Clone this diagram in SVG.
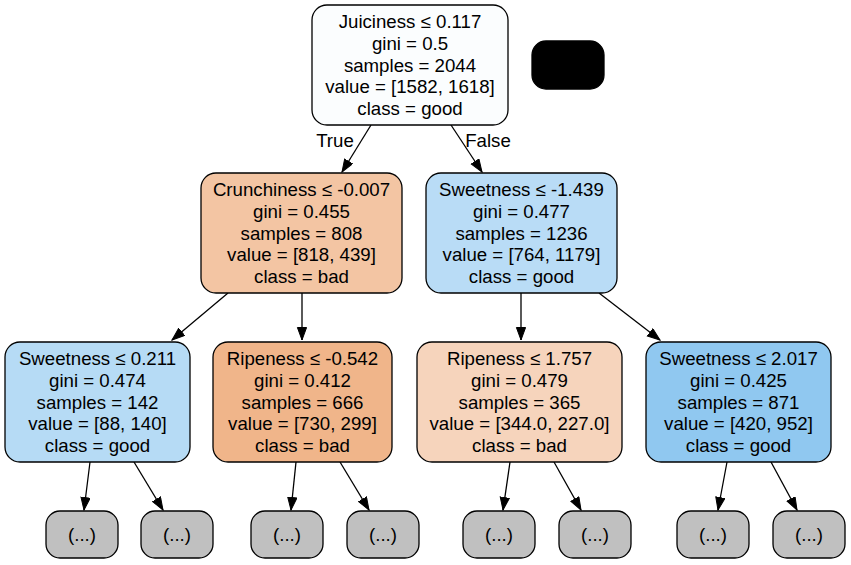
<svg xmlns="http://www.w3.org/2000/svg" width="851" height="565" viewBox="0 0 851 565">
<style>
  .box { stroke: #000; stroke-width: 1.3; }
  .t { font-family: "Liberation Sans", Arial, sans-serif; font-size: 18.67px; fill: #000; text-anchor: middle; }
  .e line { stroke: #000; stroke-width: 1.3; marker-end: url(#arr); }
  .leaf { fill: #c0c0c0; }
</style>
<defs>
  <marker id="arr" markerUnits="userSpaceOnUse" markerWidth="16" markerHeight="12" refX="13" refY="5" orient="auto">
    <path d="M0.5,0.4 L13,5 L0.5,9.6 Z" fill="#000" stroke="#000" stroke-width="1"/>
  </marker>
</defs>
<rect width="851" height="565" fill="#fff"/>

<g id="connectors" class="e">
  <line x1="371" y1="125" x2="342" y2="172"/>
  <line x1="451" y1="125" x2="482" y2="172"/>
  <line x1="228" y1="293" x2="172" y2="340"/>
  <line x1="302" y1="293" x2="302" y2="340"/>
  <line x1="521" y1="293" x2="521" y2="340"/>
  <line x1="599" y1="293" x2="660" y2="340"/>
  <line x1="90" y1="462" x2="84" y2="510"/>
  <line x1="134" y1="462" x2="163" y2="510"/>
  <line x1="296" y1="462" x2="291" y2="510"/>
  <line x1="340" y1="462" x2="369" y2="510"/>
  <line x1="510" y1="462" x2="503" y2="510"/>
  <line x1="554" y1="462" x2="581" y2="510"/>
  <line x1="727" y1="462" x2="718" y2="510"/>
  <line x1="771" y1="462" x2="797" y2="510"/>
  <text class="t" x="335" y="147" style="stroke:none">True</text>
  <text class="t" x="488" y="147" style="stroke:none">False</text>
</g>

<g id="node0">
  <rect class="box" x="312" y="5" width="196" height="120" rx="15" fill="#fbfdfe"/>
  <text class="t" x="410" y="28.4">Juiciness ≤ 0.117</text>
  <text class="t" x="410" y="50">gini = 0.5</text>
  <text class="t" x="410" y="71.7">samples = 2044</text>
  <text class="t" x="410" y="93.3">value = [1582, 1618]</text>
  <text class="t" x="410" y="115">class = good</text>
</g>

<g id="nodeBlack">
  <rect class="box" x="532" y="41" width="72" height="48" rx="14" fill="#000"/>
</g>

<g id="node1">
  <rect class="box" x="201" y="173" width="201" height="120" rx="15" fill="#f3c5a3"/>
  <text class="t" x="301.5" y="196.4">Crunchiness ≤ -0.007</text>
  <text class="t" x="301.5" y="218">gini = 0.455</text>
  <text class="t" x="301.5" y="239.7">samples = 808</text>
  <text class="t" x="301.5" y="261.4">value = [818, 439]</text>
  <text class="t" x="301.5" y="283">class = bad</text>
</g>

<g id="node2">
  <rect class="box" x="426" y="173" width="191" height="120" rx="15" fill="#b9dcf6"/>
  <text class="t" x="521.5" y="196.4">Sweetness ≤ -1.439</text>
  <text class="t" x="521.5" y="218">gini = 0.477</text>
  <text class="t" x="521.5" y="239.7">samples = 1236</text>
  <text class="t" x="521.5" y="261.4">value = [764, 1179]</text>
  <text class="t" x="521.5" y="283">class = good</text>
</g>

<g id="node3">
  <rect class="box" x="5" y="342" width="185" height="120" rx="15" fill="#b6dbf5"/>
  <text class="t" x="97.5" y="365.4">Sweetness ≤ 0.211</text>
  <text class="t" x="97.5" y="387">gini = 0.474</text>
  <text class="t" x="97.5" y="408.7">samples = 142</text>
  <text class="t" x="97.5" y="430.4">value = [88, 140]</text>
  <text class="t" x="97.5" y="452">class = good</text>
</g>

<g id="node4">
  <rect class="box" x="213" y="342" width="179" height="120" rx="15" fill="#f0b58a"/>
  <text class="t" x="302.5" y="365.4">Ripeness ≤ -0.542</text>
  <text class="t" x="302.5" y="387">gini = 0.412</text>
  <text class="t" x="302.5" y="408.7">samples = 666</text>
  <text class="t" x="302.5" y="430.4">value = [730, 299]</text>
  <text class="t" x="302.5" y="452">class = bad</text>
</g>

<g id="node5">
  <rect class="box" x="417" y="342" width="205" height="120" rx="15" fill="#f6d4bc"/>
  <text class="t" x="519.5" y="365.4">Ripeness ≤ 1.757</text>
  <text class="t" x="519.5" y="387">gini = 0.479</text>
  <text class="t" x="519.5" y="408.7">samples = 365</text>
  <text class="t" x="519.5" y="430.4">value = [344.0, 227.0]</text>
  <text class="t" x="519.5" y="452">class = bad</text>
</g>

<g id="node6">
  <rect class="box" x="646" y="342" width="185" height="120" rx="15" fill="#90c8f0"/>
  <text class="t" x="738.5" y="365.4">Sweetness ≤ 2.017</text>
  <text class="t" x="738.5" y="387">gini = 0.425</text>
  <text class="t" x="738.5" y="408.7">samples = 871</text>
  <text class="t" x="738.5" y="430.4">value = [420, 952]</text>
  <text class="t" x="738.5" y="452">class = good</text>
</g>

<g id="leaf1"><rect class="box leaf" x="46" y="511" width="72" height="47" rx="14"/><text class="t" x="82" y="541">(...)</text></g>
<g id="leaf2"><rect class="box leaf" x="141" y="511" width="72" height="47" rx="14"/><text class="t" x="177" y="541">(...)</text></g>
<g id="leaf3"><rect class="box leaf" x="251" y="511" width="72" height="47" rx="14"/><text class="t" x="287" y="541">(...)</text></g>
<g id="leaf4"><rect class="box leaf" x="347" y="511" width="72" height="47" rx="14"/><text class="t" x="383" y="541">(...)</text></g>
<g id="leaf5"><rect class="box leaf" x="463" y="511" width="72" height="47" rx="14"/><text class="t" x="499" y="541">(...)</text></g>
<g id="leaf6"><rect class="box leaf" x="559" y="511" width="72" height="47" rx="14"/><text class="t" x="595" y="541">(...)</text></g>
<g id="leaf7"><rect class="box leaf" x="677" y="511" width="72" height="47" rx="14"/><text class="t" x="713" y="541">(...)</text></g>
<g id="leaf8"><rect class="box leaf" x="773" y="511" width="72" height="47" rx="14"/><text class="t" x="809" y="541">(...)</text></g>
</svg>
